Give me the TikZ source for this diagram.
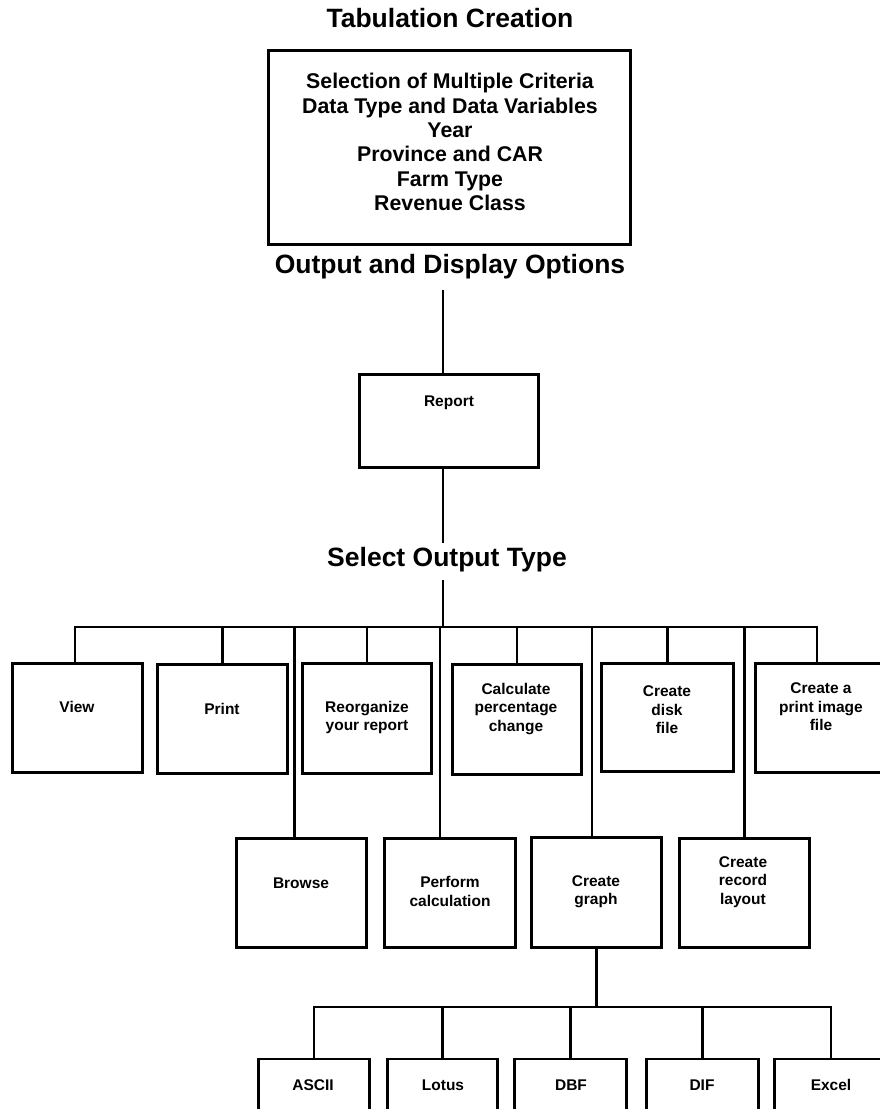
\documentclass[tikz,border=0pt]{standalone}
\usepackage{fontspec}
\setmainfont{Liberation Sans}
\begin{document}
\begin{tikzpicture}[x=1pt,y=-1pt,
  box/.style={draw,line width=2.8pt,inner sep=0pt,outer sep=0pt},
  conn/.style={line width=2.3pt},
  txt/.style={font=\bfseries\fontsize{15.5}{18.5}\selectfont,align=center,inner sep=0pt},
  crittxt/.style={font=\bfseries\fontsize{21.3}{24.4}\selectfont,align=center,inner sep=0pt},
  head/.style={font=\bfseries\fontsize{26.5}{30}\selectfont,inner sep=0pt}]
\useasboundingbox[fill=white] (0,0) rectangle (880,1109);

% headings
\node[head] (title) at (450,18) {Tabulation Creation};
\node[box,minimum width=362.5pt,minimum height=194.5pt] (crit) at (449.5,147.5) {};
\node[crittxt] (crittext) at (450,142) {Selection of Multiple Criteria\\Data Type and Data Variables\\Year\\Province and CAR\\Farm Type\\Revenue Class};
\node[head] (outopt) at (450,267) {Output and Display Options};

\node[box,minimum width=179.5pt,minimum height=93.5pt] (report) at (449,421) {};
\node[txt] (reporttxt) at (449,403) {Report};
\node[head] (seltype) at (447,560) {Select Output Type};

% first row
\node[box,minimum width=130.5pt,minimum height=109.5pt] (view) at (77.5,718) {};
\node[box,minimum width=130.5pt,minimum height=109.5pt] (print) at (222.5,719) {};
\node[box,minimum width=129.5pt,minimum height=110.5pt] (reorg) at (367,718.5) {};
\node[box,minimum width=129.5pt,minimum height=110.5pt] (calc) at (517,719.5) {};
\node[box,minimum width=132.5pt,minimum height=108.5pt] (disk) at (667.5,717.5) {};
\node[box,minimum width=131.5pt,minimum height=109.5pt] (pimg) at (821,718) {};

\node[txt] (viewtxt) at (77,707) {View};
\node[txt] (printtxt) at (222,709) {Print};
\node[txt] (reorgtxt) at (367,717.5) {Reorganize\\your report};
\node[txt] (calctxt) at (516,709) {Calculate\\percentage\\change};
\node[txt] (disktxt) at (667,710) {Create\\disk\\file};
\node[txt] (pimgtxt) at (821,707) {Create a\\print image\\file};

% second row
\node[box,minimum width=130.5pt,minimum height=109.5pt] (browse) at (301.5,893) {};
\node[box,minimum width=131.5pt,minimum height=109.5pt] (perf) at (450,893) {};
\node[box,minimum width=130.5pt,minimum height=110.5pt] (graph) at (596.5,892.5) {};
\node[box,minimum width=130.5pt,minimum height=109.5pt] (record) at (744.5,893) {};

\node[txt] (browsetxt) at (301,883) {Browse};
\node[txt] (perftxt) at (450,891.5) {Perform\\calculation};
\node[txt] (graphtxt) at (596,891.5) {Create\\graph};
\node[txt] (recordtxt) at (743,882) {Create\\record\\layout};

% third row
\node[box,minimum width=111.5pt,minimum height=110pt] (ascii) at (314,1114) {};
\node[box,minimum width=110.5pt,minimum height=110pt] (lotus) at (442.5,1114) {};
\node[box,minimum width=112.5pt,minimum height=110pt] (dbf) at (570.5,1114) {};
\node[box,minimum width=112.5pt,minimum height=110pt] (dif) at (702.5,1114) {};
\node[box,minimum width=113.5pt,minimum height=110pt] (excel) at (831,1114) {};

\node[txt] (asciitxt) at (313,1085) {ASCII};
\node[txt] (lotustxt) at (443,1085) {Lotus};
\node[txt] (dbftxt) at (571,1085) {DBF};
\node[txt] (diftxt) at (702,1085) {DIF};
\node[txt] (exceltxt) at (831,1085) {Excel};

% connector points
\coordinate (t1) at (443,290);
\coordinate (t2) at (443,543);
\coordinate (t3) at (443,580);
\coordinate (bus) at (443,627);
\coordinate (viewtop) at ([xshift=-2.5pt]view.north);
\coordinate (pimgtop) at ([xshift=-4pt]pimg.north);
\coordinate (browsetop) at ([xshift=-7pt]browse.north);
\coordinate (perftop) at ([xshift=-10pt]perf.north);
\coordinate (graphtop) at ([xshift=-4.5pt]graph.north);
\coordinate (bus2) at (596.5,1007);

% connectors
\draw[conn] (t1) -- (t1 |- report.north);
\draw[conn] (t2 |- report.south) -- (t2);
\draw[conn] (t3) -- (bus);
\draw[conn] (viewtop) |- (bus) -| (pimgtop);
\draw[conn] (print.north) -- (print.north |- bus);
\draw[conn] (reorg.north) -- (reorg.north |- bus);
\draw[conn] (calc.north) -- (calc.north |- bus);
\draw[conn] (disk.north) -- (disk.north |- bus);
\draw[conn] (browsetop |- bus) -- (browsetop);
\draw[conn] (perftop |- bus) -- (perftop);
\draw[conn] (graphtop |- bus) -- (graphtop);
\draw[conn] (record.north |- bus) -- (record.north);

\draw[conn] (graph.south) -- (graph.south |- bus2);
\draw[conn] (ascii.north) |- (bus2) -| (excel.north);
\draw[conn] (lotus.north) -- (lotus.north |- bus2);
\draw[conn] (dbf.north) -- (dbf.north |- bus2);
\draw[conn] (dif.north) -- (dif.north |- bus2);
\end{tikzpicture}
\end{document}
